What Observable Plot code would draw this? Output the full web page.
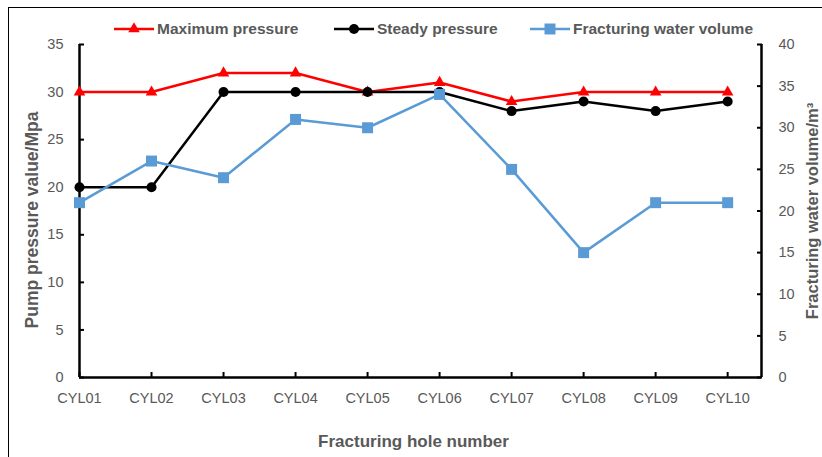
<!DOCTYPE html>
<html>
<head>
<meta charset="utf-8">
<script src="https://cdn.jsdelivr.net/npm/d3@7"></script>
<script src="https://cdn.jsdelivr.net/npm/@observablehq/plot@0.6"></script>
<style>
  body { margin: 0; background: #fff; font-family: "Liberation Sans", Arial, sans-serif; }
  #wrap { position: relative; width: 822px; height: 457px; overflow: hidden; }
  #frame { position: absolute; left: 8px; top: 7px; width: 900px; height: 500px;
           border-left: 1.5px solid #000; border-top: 1.5px solid #000; pointer-events: none; }
  #legend { position: relative; height: 40px; }
  .item { position: absolute; top: 19px; display: flex; align-items: center; height: 20px;
          font-weight: bold; font-size: 15.5px; color: #595959; }
  .item svg { margin-right: 3px; }
  #chart svg { display: block; }
</style>
</head>
<body>
<div id="wrap">
  <div id="legend"></div>
  <div id="chart"></div>
  <div id="frame"></div>
</div>
<script>
const holes = ["CYL01","CYL02","CYL03","CYL04","CYL05","CYL06","CYL07","CYL08","CYL09","CYL10"];
const maxPressure = [30,30,32,32,30,31,29,30,30,30];
const steadyPressure = [20,20,30,30,30,30,28,29,28,29];
const waterVolume = [21,26,24,31,30,34,25,15,21,21];
const leftTicks = [0,5,10,15,20,25,30,35];
const rightTicks = [0,5,10,15,20,25,30,35,40];

const seriesNames = ["Maximum pressure","Steady pressure","Fracturing water volume"];
const colors = ["#FF0000","#000000","#5B9BD5"];
const symbols = ["triangle","circle","square"];
const radii = [4.3, 5, 6.2];
const legendLeft = [114, 334, 530];

// right axis (0-40) mapped onto left scale (0-35)
const k = 35 / 40;

const rows = [];
holes.forEach((h, i) => {
  rows.push({i, hole: h, series: seriesNames[0], v: maxPressure[i]});
  rows.push({i, hole: h, series: seriesNames[1], v: steadyPressure[i]});
  rows.push({i, hole: h, series: seriesNames[2], v: waterVolume[i] * k});
});

// Legend
const legend = document.getElementById("legend");
seriesNames.forEach((name, s) => {
  const div = document.createElement("div");
  div.className = "item";
  div.style.left = legendLeft[s] + "px";
  const sym = d3.symbol(s === 0 ? d3.symbolTriangle : s === 1 ? d3.symbolCircle : d3.symbolSquare,
                        radii[s] * radii[s] * Math.PI)();
  div.innerHTML = `<svg width="40" height="20"><line x1="0" x2="40" y1="10" y2="10" stroke="${colors[s]}" stroke-width="2.5"/>` +
    `<path d="${sym}" transform="translate(20,10)" fill="${colors[s]}"/></svg><span>${name}</span>`;
  legend.appendChild(div);
});

const xMax = 9.47;
const tickFont = {fontSize: 14.5, fill: "#595959"};
const titleStyle = {fontWeight: "bold", fill: "#595959", textAnchor: "middle"};

const marks = [
  // left y-axis labels
  Plot.axisY({ticks: leftTicks, tickSize: 0, tickPadding: 16, anchor: "left", label: null, ...tickFont}),
  // left y ticks (inward)
  Plot.axisY({ticks: leftTicks, tickSize: 5, dx: 5, anchor: "left", tickFormat: () => "", label: null, strokeWidth: 2}),
  // right y-axis labels
  Plot.axisY({ticks: rightTicks.map(v => v * k), tickFormat: d => String(Math.round(d / k)), tickSize: 0, tickPadding: 17, anchor: "right", label: null, ...tickFont}),
  Plot.axisY({ticks: rightTicks.map(v => v * k), tickSize: 5, dx: -5, anchor: "right", tickFormat: () => "", label: null, strokeWidth: 2}),
  // x-axis labels
  Plot.axisX({ticks: d3.range(holes.length), tickFormat: i => holes[i], tickSize: 0, tickPadding: 15, label: null, ...tickFont}),
  Plot.axisX({ticks: d3.range(holes.length), tickSize: 5, dy: -5, tickFormat: () => "", label: null, strokeWidth: 2}),
  // axis lines
  Plot.ruleX([0], {strokeWidth: 2.5}),
  Plot.ruleX([xMax], {strokeWidth: 2.5}),
  Plot.ruleY([0], {strokeWidth: 2.5}),
  // axis titles
  Plot.text(["Fracturing hole number"], {frameAnchor: "bottom", dx: -7, dy: 69, fontSize: 17, ...titleStyle}),
  Plot.text(["Pump pressure value/Mpa"], {frameAnchor: "left", rotate: -90, dx: -47, dy: 9, fontSize: 17.5, ...titleStyle}),
  Plot.text(["Fracturing water volume/m³"], {frameAnchor: "right", rotate: -90, dx: 51, dy: 0, fontSize: 16.5, ...titleStyle})
];

seriesNames.forEach((name, s) => {
  const data = rows.filter(d => d.series === name);
  marks.push(Plot.line(data, {x: "i", y: "v", stroke: colors[s], strokeWidth: 2.5}));
  marks.push(Plot.dot(data, {x: "i", y: "v", symbol: () => symbols[s], r: radii[s], fill: colors[s], stroke: "none"}));
});

const chart = Plot.plot({
  width: 822,
  height: 417,
  marginLeft: 79,
  marginRight: 61,
  marginTop: 4,
  marginBottom: 80,
  style: {fontFamily: "'Liberation Sans', Arial, sans-serif", background: "transparent", overflow: "visible"},
  x: {domain: [0, xMax], axis: null},
  y: {domain: [0, 35], axis: null},
  symbol: {type: "identity"},
  marks
});
document.getElementById("chart").appendChild(chart);
</script>
</body>
</html>
